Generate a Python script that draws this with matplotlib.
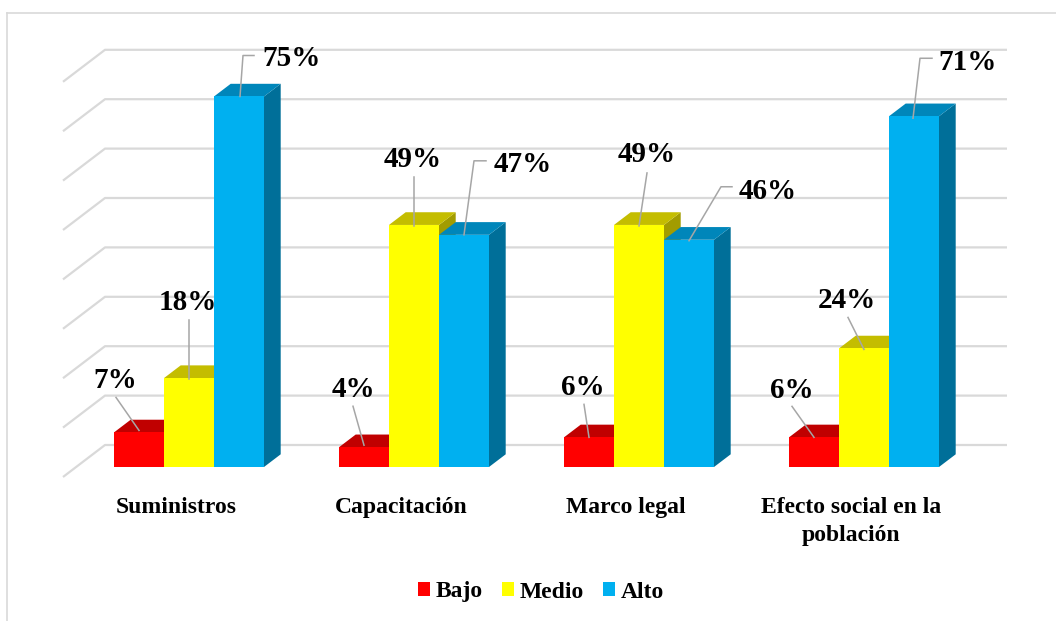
import matplotlib.pyplot as plt
from matplotlib.patches import Polygon, Rectangle, Patch
from matplotlib.lines import Line2D

# Data
categorias = ['Suministros', 'Capacitación', 'Marco legal', 'Efecto social en la\npoblación']
niveles = ['Bajo', 'Medio', 'Alto']
bajo = [7, 4, 6, 6]
medio = [18, 49, 49, 24]
alto = [75, 47, 46, 71]
ticks = [0, 10, 20, 30, 40, 50, 60, 70, 80]

# front, top, side colours for each level
colores = {
    'Bajo': ('#FF0000', '#C00000', '#A00000'),
    'Medio': ('#FFFF00', '#C4BD00', '#A29C00'),
    'Alto': ('#00B0F0', '#0086BA', '#006F99'),
}

# label layout: text offset and leader points, in pixels from bar top centre
etiquetas = {
    'Bajo': [((-24, -52), [(-23, -35), (0, -2)]),
             ((-11, -58), [(-11, -41), (0, -2)]),
             ((-6, -50), [(-5, -33), (0, 0)]),
             ((-22, -47), [(-22, -31), (0, 0)])],
    'Medio': [((-1, -76), [(0, -58), (0, 1)]),
              ((-1, -65), [(0, -48), (0, 1)]),
              ((8, -70), [(8, -52), (0, 1)]),
              ((-17, -48), [(-16, -31), (0, 1)])],
    'Alto': [((53, -38), [(15, -41), (4, -41), (1, 0)]),
             ((59, -70), [(22, -74), (10, -74), (0, 0)]),
             ((79, -48), [(43, -53), (32, -53), (0, 1)]),
             ((54, -54), [(18, -58), (6, -58), (-1, 2)])],
}

W, H = 1056, 621
PX_X = 225.0   # pixels per category
PX_Y = 4.94    # pixels per percent
X0, Y0 = 189.0, 467.0

fig = plt.figure(figsize=(W / 100, H / 100), dpi=100)
ax = fig.add_axes([0, 0, 1, 1])
ax.set_xlim(-X0 / PX_X, (W - X0) / PX_X)
ax.set_ylim((Y0 - H) / PX_Y, Y0 / PX_Y)
ax.axis('off')


def px(dx, dy):
    # pixel offset (y down) -> data offset
    return dx / PX_X, -dy / PX_Y


fnt = ['Liberation Serif', 'DejaVu Serif']
grid_c = '#D9D9D9'

# back wall grid and floor diagonals
xb = px(105 - X0, 0)[0]
xf = px(63 - X0, 0)[0]
xr = px(1007 - X0, 0)[0]
yb = px(0, -22)[1]
yf = px(0, 10)[1]
for t in ticks:
    ax.plot([xf, xb, xr], [t + yf, t + yb, t + yb], color=grid_c, lw=1.6,
            zorder=1, solid_capstyle='butt')

# 3D-looking bars
w = 50 / PX_X
ddx, ddy = px(16.7, -12.7)
series = {'Bajo': bajo, 'Medio': medio, 'Alto': alto}
z = 2
for i in range(len(categorias)):
    for j, nivel in enumerate(niveles):
        v = series[nivel][i]
        front, top, side = colores[nivel]
        x0 = i - 1.5 * w + j * w
        x1 = x0 + w
        ax.add_patch(Polygon([(x1, 0), (x1 + ddx, ddy), (x1 + ddx, v + ddy), (x1, v)],
                             closed=True, facecolor=side, edgecolor='none', zorder=z))
        ax.add_patch(Polygon([(x0, v), (x0 + ddx, v + ddy), (x1 + ddx, v + ddy), (x1, v)],
                             closed=True, facecolor=top, edgecolor='none', zorder=z))
        ax.add_patch(Rectangle((x0, 0), w, v, facecolor=front, edgecolor='none', zorder=z + 0.5))
        z += 1

# data labels with leader lines
for j, nivel in enumerate(niveles):
    for i, v in enumerate(series[nivel]):
        cx = i - 1.5 * w + j * w + w / 2
        (tx, ty), pts = etiquetas[nivel][i]
        lx = [cx + px(a, b)[0] for a, b in pts]
        ly = [v + px(a, b)[1] for a, b in pts]
        ax.plot(lx, ly, color='#A6A6A6', lw=1.1, zorder=50)
        ox, oy = px(tx, ty)
        ax.text(cx + ox, v + oy, f'{v}%', ha='center', va='center', fontsize=21,
                fontweight='bold', family=fnt, color='black', zorder=60)

# category labels
for i, cat in enumerate(categorias):
    ox, oy = px(-13, 497 - Y0)
    ax.text(i + ox, oy, cat, ha='center', va='top', fontsize=17, fontweight='bold',
            family=fnt, linespacing=1.45)

# legend
handles = [Patch(facecolor=colores[n][0], edgecolor='none', label=n) for n in niveles]
fig.legend(handles=handles, loc='center', bbox_to_anchor=(541 / W, 1 - 592 / H), ncol=3,
           frameon=False, handlelength=0.5, handleheight=0.5, handletextpad=0.25,
           columnspacing=0.8, prop={'family': fnt, 'weight': 'bold', 'size': 17})

# chart border (top and left visible)
fig.add_artist(Line2D([7 / W, 1], [1 - 13 / H, 1 - 13 / H], color=grid_c, lw=1.2))
fig.add_artist(Line2D([7 / W, 7 / W], [0, 1 - 13 / H], color=grid_c, lw=1.2))

fig.savefig('out.png', dpi=100)
